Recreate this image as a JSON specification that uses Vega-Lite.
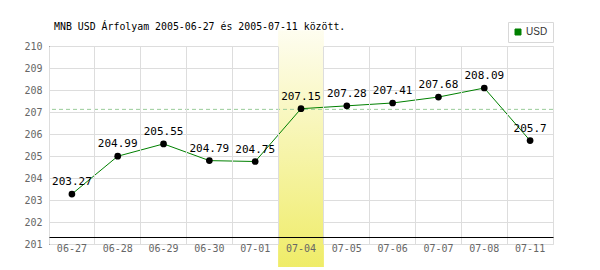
{
  "$schema": "https://vega.github.io/schema/vega-lite/v6.json",
  "autosize": {"type": "none"},
  "padding": {"left": 49, "top": 46, "right": 47, "bottom": 26},
  "width": 504,
  "height": 198,
  "background": "white",
  "title": {
    "text": "MNB USD Árfolyam 2005-06-27 és 2005-07-11 között.",
    "anchor": "start",
    "frame": "group",
    "dx": 5,
    "offset": -10,
    "font": "DejaVu Sans Mono",
    "fontSize": 9.9,
    "fontWeight": "normal",
    "color": "#000000"
  },
  "config": {
    "view": {"stroke": "#dddddd", "strokeWidth": 1},
    "axis": {"labelFont": "DejaVu Sans Mono", "labelFontSize": 10, "labelColor": "#666666", "ticks": false, "title": null, "gridColor": "#dddddd", "domainColor": "#000000", "labelOverlap": false}
  },
  "data": {"values": [
    {"date": "06-27", "rate": 203.27, "label": "203.27"},
    {"date": "06-28", "rate": 204.99, "label": "204.99"},
    {"date": "06-29", "rate": 205.55, "label": "205.55"},
    {"date": "06-30", "rate": 204.79, "label": "204.79"},
    {"date": "07-01", "rate": 204.75, "label": "204.75"},
    {"date": "07-04", "rate": 207.15, "label": "207.15"},
    {"date": "07-05", "rate": 207.28, "label": "207.28"},
    {"date": "07-06", "rate": 207.41, "label": "207.41"},
    {"date": "07-07", "rate": 207.68, "label": "207.68"},
    {"date": "07-08", "rate": 208.09, "label": "208.09"},
    {"date": "07-11", "rate": 205.7, "label": "205.7"}
  ]},
  "encoding": {
    "x": {"field": "date", "type": "ordinal", "sort": null,
      "scale": {"domain": ["06-27", "06-28", "06-29", "06-30", "07-01", "07-04", "07-05", "07-06", "07-07", "07-08", "07-11"], "paddingInner": 0, "paddingOuter": 0},
      "axis": {"labelAngle": 0, "grid": true, "bandPosition": 0, "offset": -7, "labelPadding": 6, "zindex": 1, "domainColor": "#000000"}}
  },
  "layer": [
    {
      "data": {"values": [{"date": "07-04", "top": 210.72, "bottom": 199.95}]},
      "mark": {"type": "rect", "clip": false,
        "color": {"gradient": "linear", "x1": 0, "y1": 0, "x2": 0, "y2": 1,
          "stops": [{"offset": 0, "color": "#fefdf0"}, {"offset": 1, "color": "#efec68"}]}},
      "encoding": {
        "y": {"field": "top", "type": "quantitative", "scale": {"domain": [201, 210], "nice": false, "zero": false},
          "axis": {"values": [201, 202, 203, 204, 205, 206, 207, 208, 209, 210], "tickCount": 10, "labelOverlap": false, "grid": true, "labelPadding": 7, "zindex": 0}},
        "y2": {"field": "bottom"}
      }
    },
    {
      "data": {"values": [{"avg": 207.12}]},
      "mark": {"type": "rule", "stroke": "#99cc99", "strokeDash": [4, 3], "strokeWidth": 1},
      "encoding": {"y": {"field": "avg", "type": "quantitative"}, "x": {}}
    },
    {
      "mark": {"type": "line", "strokeWidth": 1},
      "encoding": {
        "y": {"field": "rate", "type": "quantitative"},
        "color": {"datum": "USD", "scale": {"domain": ["USD"], "range": ["#008000"]},
          "legend": {"title": null, "orient": "none", "legendX": 459, "legendY": -24,
            "symbolType": "square", "symbolSize": 36, "symbolStrokeWidth": 1,
            "labelFont": "Liberation Sans", "labelFontSize": 10, "labelColor": "#333333", "labelOffset": 3,
            "strokeColor": "#d8d8d8", "padding": 5, "fillColor": "white",
            "encode": {"symbols": {"update": {"fill": {"value": "#008000"}, "stroke": {"value": "#333333"}}}}}}
      }
    },
    {
      "mark": {"type": "circle", "size": 45, "color": "#000000", "opacity": 1},
      "encoding": {"y": {"field": "rate", "type": "quantitative"}}
    },
    {
      "mark": {"type": "text", "dy": -12, "font": "DejaVu Sans Mono", "fontSize": 11, "color": "#000000"},
      "encoding": {"y": {"field": "rate", "type": "quantitative"}, "text": {"field": "label"}}
    }
  ]
}
